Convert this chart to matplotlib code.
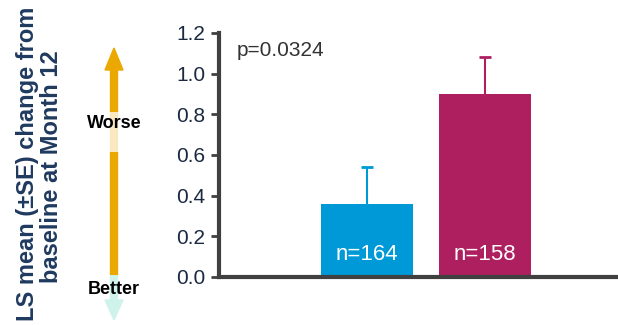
import matplotlib
matplotlib.use("Agg")
import matplotlib.pyplot as plt
from matplotlib.patches import Polygon

plt.rcParams['font.family'] = ['Liberation Sans', 'DejaVu Sans']

# ================================
# Dados
# ================================
grupos = ["Grupo A", "Grupo B"]
medias = [0.36, 0.90]
erros = [0.18, 0.18]
n_labels = ["n=164", "n=158"]
cores = ["#0099D8", "#AE1F60"]
p_valor = "p=0.0324"
yticks = [0.0, 0.2, 0.4, 0.6, 0.8, 1.0, 1.2]

W, H = 618, 325
fig = plt.figure(figsize=(W / 100, H / 100), dpi=100)

# ================================
# Eixo principal com as barras
# ================================
ax = fig.add_axes([219 / W, 48 / H, (W - 219) / W, (277 - 33) / H])
x = [0, 1]
ax.bar(x, medias, width=0.78, color=cores, zorder=2)
# barra de erro só para cima (+SE)
for xi, m, e, c in zip(x, medias, erros, cores):
    ax.vlines(xi, m, m + e, color=c, lw=1.5, zorder=1)
    ax.hlines(m + e, xi - 0.05, xi + 0.05, color=c, lw=2, zorder=1)
for xi, lab in zip(x, n_labels):
    ax.text(xi, 0.11, lab, ha='center', va='center', color='white', fontsize=16, zorder=3)

ax.set_xlim(-1.254, 2.127)
ax.set_ylim(0, 1.2)
ax.set_yticks(yticks)
ax.set_yticklabels([f"{v:.1f}" for v in yticks], fontsize=15, color="#1B2A41")
ax.set_xticks([])
for s in ['top', 'right']:
    ax.spines[s].set_visible(False)
for s in ['left', 'bottom']:
    ax.spines[s].set_linewidth(3)
    ax.spines[s].set_color('#404040')
ax.tick_params(axis='y', direction='out', length=6, width=2, color='#404040', pad=4)
ax.text(0.045, 0.93, p_valor, transform=ax.transAxes, fontsize=15, color='#333333',
        va='center', ha='left')

# ================================
# Seta Pior / Melhor e rótulo do eixo y
# ================================
ov = fig.add_axes([0, 0, 1, 1], zorder=-1)
ov.set_xlim(0, W)
ov.set_ylim(H, 0)
ov.axis('off')

xa = 114
ov.plot([xa, xa], [68, 112], color='#EBA800', lw=6, solid_capstyle='butt')
ov.plot([xa, xa], [112, 152], color='#FAE8C0', lw=6, solid_capstyle='butt')
ov.plot([xa, xa], [152, 275], color='#EBA800', lw=6, solid_capstyle='butt')
ov.plot([xa, xa], [275, 301], color='#CFF3EA', lw=6, solid_capstyle='butt')
ov.add_patch(Polygon([[xa - 9, 70], [xa + 9, 70], [xa, 48]], color='#EBA800'))
ov.add_patch(Polygon([[xa - 9, 300], [xa + 9, 300], [xa, 320]], color='#CFF3EA'))
ov.text(xa, 123, "Worse", ha='center', va='center', fontsize=13, fontweight='bold', color='black')
ov.text(xa, 290, "Better", ha='center', va='center', fontsize=13, fontweight='bold', color='black')

ov.text(28, 164, "LS mean (±SE) change from", rotation=90, ha='center', va='center',
        fontsize=17, fontweight='bold', color='#1F3A5F')
ov.text(52, 167, "baseline at Month 12", rotation=90, ha='center', va='center',
        fontsize=17, fontweight='bold', color='#1F3A5F')

plt.savefig("out.png", dpi=100)
